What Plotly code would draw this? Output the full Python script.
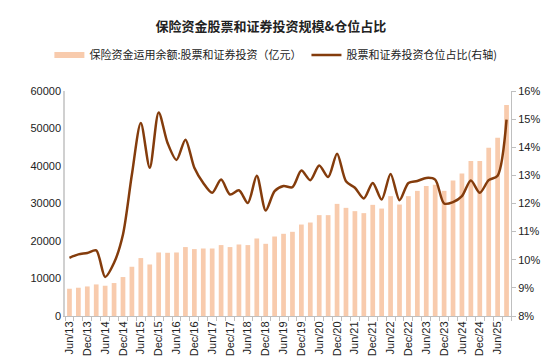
import plotly.graph_objects as go

quarters = []
for yr in range(13, 26):
    for m in ["Mar", "Jun", "Sep", "Dec"]:
        quarters.append(f"{m}/{yr}")
quarters = quarters[1:1 + 50]  # Jun/13 .. Sep/25

stock_invest = [7270, 7540, 7880, 8420, 8070, 8790, 10390, 13130, 15450, 13740,
                16940, 16860, 16940, 18380, 17840, 18000, 18000, 18910, 18380, 19070,
                18910, 20670, 19250, 21200, 21920, 22450, 24390, 24930, 26900, 26900,
                29900, 28840, 27960, 27430, 29640, 28650, 31960, 29720, 31960, 33370,
                34700, 34970, 33370, 36110, 37980, 41360, 41360, 44900, 47560, 56270]

position_ratio = [10.07, 10.19, 10.24, 10.33, 9.39, 9.89, 10.9, 13.03, 14.86, 13.27,
                  15.24, 14.15, 13.55, 14.27, 13.27, 12.73, 12.38, 12.85, 12.32, 12.47,
                  12.02, 12.99, 11.75, 12.44, 12.62, 12.58, 13.17, 12.83, 13.35, 12.94,
                  13.77, 12.79, 12.56, 12.18, 12.73, 12.14, 13.05, 12.12, 12.73, 12.80,
                  12.91, 12.85, 12.0, 12.05, 12.26, 12.82, 12.38, 12.83, 12.99, 14.98]

left_ticks = [0, 10000, 20000, 30000, 40000, 50000, 60000]
tick_text = [q if q.startswith(("Jun", "Dec")) else "" for q in quarters]

bar_color = "#F8CBAD"
line_color = "#843C0C"
font_family = "Liberation Sans, Arial, Noto Sans CJK SC, sans-serif"
cjk_family = "Noto Sans CJK SC, sans-serif"

fig = go.Figure()
fig.add_trace(go.Bar(x=quarters, y=stock_invest, marker_color=bar_color,
                     marker_line_width=0, showlegend=False, yaxis="y"))
fig.add_trace(go.Scatter(x=quarters, y=position_ratio, mode="lines",
                         line=dict(color=line_color, width=2.5, shape="spline", smoothing=0.8),
                         showlegend=False, yaxis="y2"))
# legend entries
fig.add_trace(go.Scatter(x=[None], y=[None], mode="lines",
                         line=dict(color=bar_color, width=6),
                         name="保险资金运用余额:股票和证券投资（亿元）"))
fig.add_trace(go.Scatter(x=[None], y=[None], mode="lines",
                         line=dict(color=line_color, width=2.5),
                         name="股票和证券投资仓位占比(右轴)"))

fig.update_layout(
    width=550, height=363,
    margin=dict(l=57, r=47, t=83, b=55),
    paper_bgcolor="white", plot_bgcolor="white",
    bargap=0.47,
    title=dict(text="<b>保险资金股票和证券投资规模&仓位占比</b>",
               x=0.478, xref="container", xanchor="center",
               y=1 - 18 / 363, yref="container", yanchor="middle",
               font=dict(family=cjk_family, size=13, color="#222")),
    legend=dict(orientation="h", x=-0.035, xanchor="left", y=1.16, yanchor="middle",
                font=dict(family=cjk_family, size=11, color="#222"),
                bgcolor="rgba(0,0,0,0)", itemwidth=30, tracegroupgap=0,
                entrywidthmode="pixels"),
    font=dict(family=font_family, size=11, color="#222"),
    xaxis=dict(type="category", tickmode="array", tickvals=quarters, ticktext=tick_text,
               tickangle=-90, showgrid=False, showline=True, linecolor="#bfbfbf",
               linewidth=1, ticks="outside", ticklen=4, tickcolor="#bfbfbf",
               tickson="boundaries", range=[-0.5, 49.5],
               tickfont=dict(size=11, color="#222")),
    yaxis=dict(range=[0, 60000], tickvals=left_ticks, ticktext=[str(v) for v in left_ticks],
               showgrid=False, showline=True, linecolor="#d0d0d0", linewidth=1.5,
               ticks="", zeroline=False, tickfont=dict(size=11, color="#222")),
    yaxis2=dict(range=[8, 16], overlaying="y", side="right", dtick=1,
                ticksuffix="%", showgrid=False, showline=True, linecolor="#bfbfbf",
                linewidth=1, ticks="outside", ticklen=4, tickcolor="#bfbfbf",
                zeroline=False, tickfont=dict(size=11, color="#222")),
)

fig.write_html("out.html")
